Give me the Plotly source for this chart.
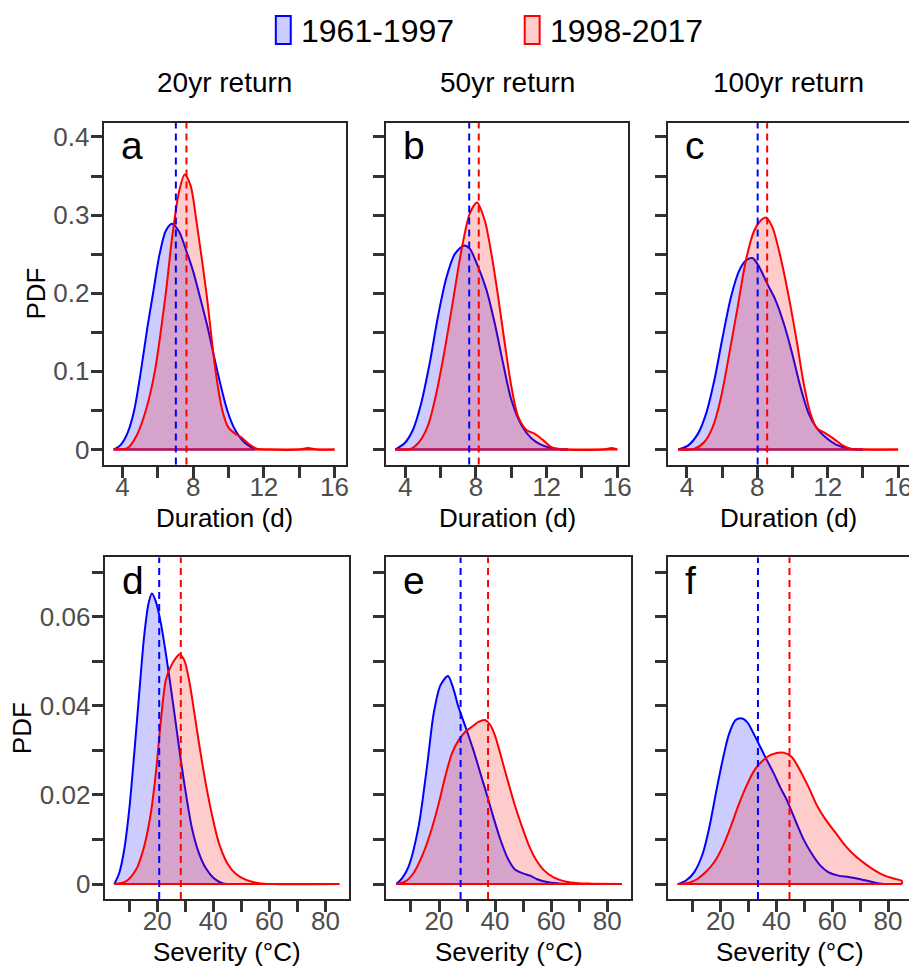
import plotly.graph_objects as go

# The page body has an 8px margin, so the figure is drawn 8px in from the top-left.
OFF = 8
W, H = 917 - OFF, 966 - OFF
FONT = "Liberation Sans, Arial, sans-serif"

# ---------------- data ----------------
panel_letters = ["a", "b", "c", "d", "e", "f"]
column_titles = ["20yr return", "50yr return", "100yr return"]
series_names = ["1961-1997", "1998-2017"]

# Duration (d) PDFs
a_blue_x = [3.5, 3.9, 4.3, 4.66, 5.04, 5.4, 5.73, 6.1, 6.45, 6.8, 7.2, 7.6, 8.0, 8.33, 8.8, 9.37, 9.93, 10.4, 10.9, 11.5]
a_blue_y = [0.0, 0.006, 0.022, 0.05, 0.10, 0.155, 0.20, 0.25, 0.28, 0.289, 0.279, 0.255, 0.228, 0.20, 0.158, 0.10, 0.05, 0.024, 0.009, 0.0]
a_red_x = [3.5, 4.3, 4.8, 5.32, 5.83, 6.45, 6.8, 7.2, 7.52, 7.85, 8.2, 8.75, 9.27, 9.65, 10.0, 10.4, 10.7, 11.1, 11.6, 12.2, 14.0, 14.5, 15.0, 16.0]
a_red_y = [0.0, 0.002, 0.018, 0.05, 0.10, 0.20, 0.27, 0.33, 0.352, 0.338, 0.29, 0.20, 0.10, 0.05, 0.028, 0.02, 0.016, 0.008, 0.001, 0.0, 0.0, 0.002, 0.0, 0.0]

b_blue_x = [3.43, 3.96, 4.43, 4.9, 5.38, 5.85, 6.33, 6.8, 7.33, 7.65, 8.12, 8.6, 9.07, 9.54, 10.01, 10.58, 11.15, 11.7, 12.47, 13.2]
b_blue_y = [0.0, 0.008, 0.025, 0.059, 0.11, 0.17, 0.22, 0.25, 0.261, 0.257, 0.234, 0.204, 0.161, 0.11, 0.063, 0.031, 0.014, 0.006, 0.001, 0.0]
b_red_x = [3.43, 4.34, 4.8, 5.29, 5.76, 6.23, 6.7, 7.18, 7.65, 8.06, 8.5, 8.88, 9.26, 9.63, 10.01, 10.39, 10.86, 11.33, 11.8, 12.28, 13.0, 15.2, 15.7, 16.0]
b_red_y = [0.0, 0.001, 0.01, 0.031, 0.072, 0.127, 0.19, 0.255, 0.302, 0.316, 0.293, 0.25, 0.195, 0.136, 0.08, 0.042, 0.025, 0.02, 0.012, 0.003, 0.0, 0.0, 0.002, 0.0]

c_blue_x = [3.5, 4.06, 4.62, 5.09, 5.56, 6.03, 6.5, 6.97, 7.35, 7.72, 8.1, 8.57, 9.04, 9.51, 9.98, 10.45, 10.92, 11.39, 11.96, 12.5, 13.27, 14.0]
c_blue_y = [0.0, 0.005, 0.02, 0.046, 0.089, 0.144, 0.195, 0.229, 0.242, 0.245, 0.234, 0.212, 0.191, 0.161, 0.123, 0.08, 0.046, 0.027, 0.014, 0.006, 0.001, 0.0]
c_red_x = [3.5, 4.43, 5.0, 5.47, 5.94, 6.41, 6.88, 7.35, 7.82, 8.19, 8.48, 8.85, 9.32, 9.79, 10.26, 10.64, 11.02, 11.39, 11.86, 12.33, 12.8, 13.27, 14.0, 16.0]
c_red_y = [0.0, 0.001, 0.01, 0.029, 0.067, 0.123, 0.182, 0.242, 0.28, 0.293, 0.297, 0.285, 0.246, 0.195, 0.136, 0.084, 0.046, 0.027, 0.021, 0.014, 0.006, 0.001, 0.0, 0.0]

# Severity (°C) PDFs
d_blue_x = [4.66, 6.44, 8.2, 10.0, 11.8, 13.56, 15.3, 16.9, 18.07, 19.5, 21.3, 23.05, 24.8, 26.6, 28.4, 30.2, 32.5, 34.9, 37.3, 40.2, 43.2, 45.0]
d_blue_y = [0.0, 0.0025, 0.0077, 0.0167, 0.0294, 0.0428, 0.0555, 0.063, 0.0652, 0.0634, 0.0585, 0.0518, 0.0443, 0.0361, 0.0279, 0.0204, 0.0122, 0.0069, 0.0036, 0.0013, 0.0002, 0.0]
d_red_x = [4.66, 8.8, 12.4, 15.3, 17.7, 19.5, 21.3, 23.05, 24.8, 26.6, 28.0, 29.6, 31.35, 33.1, 34.9, 37.3, 39.65, 42.0, 45.0, 48.0, 51.5, 56.3, 61.0, 85.0]
d_red_y = [0.0, 0.0006, 0.0032, 0.0084, 0.0159, 0.0249, 0.0368, 0.0458, 0.0488, 0.0507, 0.0516, 0.0503, 0.0458, 0.039, 0.0316, 0.0226, 0.0152, 0.0092, 0.0047, 0.0023, 0.001, 0.0002, 0.0, 0.0]

e_blue_x = [4.77, 6.8, 9.17, 12.7, 15.7, 18.1, 20.5, 23.2, 25.2, 26.8, 29.5, 32.3, 34.7, 37.1, 39.5, 41.9, 44.5, 47.2, 50.0, 52.5, 55.0, 59.1, 65.0]
e_blue_y = [0.0, 0.0013, 0.004, 0.0129, 0.0263, 0.0383, 0.0446, 0.0467, 0.0437, 0.040, 0.0352, 0.030, 0.025, 0.020, 0.0148, 0.010, 0.0058, 0.0032, 0.0024, 0.0019, 0.0011, 0.0004, 0.0]
e_red_x = [4.77, 8.0, 10.95, 13.9, 16.9, 19.9, 22.2, 24.6, 27.0, 29.4, 31.75, 34.1, 36.3, 38.3, 40.1, 42.5, 44.8, 47.2, 49.6, 52.0, 54.3, 57.3, 60.9, 65.0, 69.8, 74.5, 85.2]
e_red_y = [0.0, 0.0006, 0.0025, 0.0062, 0.0114, 0.0181, 0.0241, 0.0293, 0.0323, 0.0342, 0.0353, 0.0364, 0.0368, 0.0357, 0.0331, 0.0278, 0.0226, 0.0174, 0.0129, 0.0088, 0.0058, 0.0032, 0.0015, 0.0006, 0.0002, 0.0001, 0.0]

f_blue_x = [4.66, 7.6, 10.6, 13.6, 16.0, 18.3, 20.7, 23.05, 25.4, 27.4, 29.6, 31.9, 34.3, 36.7, 39.1, 41.4, 43.8, 46.8, 49.7, 52.7, 55.7, 58.6, 62.2, 65.8, 69.3, 72.9, 76.4, 80.0]
f_blue_y = [0.0, 0.0008, 0.0027, 0.0068, 0.0128, 0.0203, 0.0277, 0.0337, 0.0368, 0.0372, 0.0363, 0.0337, 0.0307, 0.0277, 0.0248, 0.0217, 0.0188, 0.0143, 0.0101, 0.0068, 0.0042, 0.0027, 0.0019, 0.0016, 0.0012, 0.0007, 0.0002, 0.0]
f_red_x = [4.66, 8.8, 11.8, 14.7, 17.7, 20.7, 23.6, 26.6, 29.6, 32.5, 35.5, 38.4, 42.6, 45.5, 48.5, 51.5, 54.5, 57.4, 61.0, 64.6, 68.1, 71.7, 75.2, 78.8, 82.4, 85.0, 85.0]
f_red_y = [0.0, 0.0003, 0.0012, 0.0027, 0.0049, 0.0083, 0.0128, 0.018, 0.0225, 0.0259, 0.0279, 0.0291, 0.0295, 0.0285, 0.0255, 0.0218, 0.0177, 0.0147, 0.0117, 0.0087, 0.0064, 0.0046, 0.0031, 0.0019, 0.0012, 0.0007, 0.0]

# means (dashed lines)
mean_blue = [7.02, 7.62, 8.02, 20.7, 27.7, 33.4]
mean_red = [7.62, 8.16, 8.56, 28.4, 37.5, 44.7]

# ticks
dur_tickvals = [4, 6, 8, 10, 12, 14, 16]
dur_ticktext = ["4", "", "8", "", "12", "", "16"]
sev_tickvals = [10, 20, 30, 40, 50, 60, 70, 80]
sev_ticktext = ["", "20", "", "40", "", "60", "", "80"]
pdf_dur_tickvals = [0, 0.05, 0.1, 0.15, 0.2, 0.25, 0.3, 0.35, 0.4]
pdf_dur_ticktext = ["0", "", "0.1", "", "0.2", "", "0.3", "", "0.4"]
pdf_sev_tickvals = [0, 0.01, 0.02, 0.03, 0.04, 0.05, 0.06, 0.07]
pdf_sev_ticktext = ["0", "", "0.02", "", "0.04", "", "0.06", ""]

x_title = ["Duration (d)", "Severity (°C)"]
y_title = "PDF"

panels = [
    (a_blue_x, a_blue_y, a_red_x, a_red_y),
    (b_blue_x, b_blue_y, b_red_x, b_red_y),
    (c_blue_x, c_blue_y, c_red_x, c_red_y),
    (d_blue_x, d_blue_y, d_red_x, d_red_y),
    (e_blue_x, e_blue_y, e_red_x, e_red_y),
    (f_blue_x, f_blue_y, f_red_x, f_red_y),
]

# ---------------- layout geometry (page pixels) ----------------
col_px = [[(104, 347), (388, 631), (671, 913)],
          [(105, 351), (388, 634), (671, 916)]]
row_px = [(122, 464), (557, 899)]
x_ranges = [[2.93, 16.62], [1.2, 88.6]]
y_ranges = [[-0.0192, 0.418], [-0.00336, 0.0733]]


def px(xp):
    return (xp - OFF) / W


def py(yp):
    return 1 - (yp - OFF) / H


BLUE = "#0000ff"
RED = "#ff0000"
BLUE_FILL = "rgba(0,0,255,0.2)"
RED_FILL = "rgba(255,0,0,0.2)"

fig = go.Figure()
layout = dict(
    width=W, height=H,
    margin=dict(l=0, r=0, t=0, b=0),
    paper_bgcolor="white", plot_bgcolor="white",
    showlegend=False,
    font=dict(family=FONT, color="black"),
)
annotations = []
shapes = []

for i, (bx, by, rx, ry) in enumerate(panels):
    r, c = divmod(i, 3)
    n = i + 1
    xa = "x" if n == 1 else f"x{n}"
    ya = "y" if n == 1 else f"y{n}"
    for xs, ys, lc, fc in ((bx, by, BLUE, BLUE_FILL), (rx, ry, RED, RED_FILL)):
        # filled density curve
        fig.add_trace(go.Scatter(
            x=xs, y=ys,
            mode="lines", fill="tozeroy", fillcolor=fc,
            line=dict(color=lc, width=2, shape="spline", smoothing=0.8),
            xaxis=xa, yaxis=ya, hoverinfo="skip",
        ))
        # polygon base (outline along zero)
        fig.add_trace(go.Scatter(
            x=[xs[0], xs[-1]], y=[0, 0], mode="lines",
            line=dict(color=lc, width=2),
            xaxis=xa, yaxis=ya, hoverinfo="skip",
        ))
    x0, x1 = col_px[r][c]
    y0, y1 = row_px[r]
    common = dict(
        showline=True, linecolor="#262626", linewidth=2, mirror=True,
        showgrid=False, zeroline=False,
        ticks="outside", ticklen=11, tickwidth=3, tickcolor="#333333",
        tickfont=dict(family=FONT, size=26, color="#4d4d4d"),
        fixedrange=True,
    )
    layout["xaxis" if n == 1 else f"xaxis{n}"] = dict(
        common, domain=[px(x0), px(x1)], range=x_ranges[r],
        anchor=ya, ticklabelstandoff=-13,
        tickmode="array",
        tickvals=dur_tickvals if r == 0 else sev_tickvals,
        ticktext=dur_ticktext if r == 0 else sev_ticktext,
    )
    layout["yaxis" if n == 1 else f"yaxis{n}"] = dict(
        common, domain=[py(y1), py(y0)], range=y_ranges[r],
        anchor=xa, ticklabelstandoff=-4,
        tickmode="array",
        tickvals=pdf_dur_tickvals if r == 0 else pdf_sev_tickvals,
        ticktext=(pdf_dur_ticktext if r == 0 else pdf_sev_ticktext) if c == 0
        else [""] * len(pdf_dur_tickvals if r == 0 else pdf_sev_tickvals),
    )
    # mean lines
    for mv, lc in ((mean_blue[i], BLUE), (mean_red[i], RED)):
        shapes.append(dict(type="line", xref=xa, yref=f"{ya} domain",
                           x0=mv, x1=mv, y0=0, y1=1,
                           line=dict(color=lc, width=2, dash="7px,5px")))
    # panel letter
    annotations.append(dict(text=panel_letters[i], xref="paper", yref="paper",
                            x=px(x0 + 15), y=py(y0 + 23), xanchor="left", yanchor="middle",
                            showarrow=False, font=dict(family=FONT, size=39, color="black")))
    # x title
    annotations.append(dict(text=x_title[r], xref="paper", yref="paper",
                            x=px((x0 + x1) / 2), y=py(518 if r == 0 else 952),
                            xanchor="center", yanchor="middle", showarrow=False,
                            font=dict(family=FONT, size=26, color="black")))
    if r == 0:
        annotations.append(dict(text=column_titles[c], xref="paper", yref="paper",
                                x=px((x0 + x1) / 2), y=py(82), xanchor="center", yanchor="middle",
                                showarrow=False, font=dict(family=FONT, size=28, color="black")))
    if c == 0:
        annotations.append(dict(text=y_title, xref="paper", yref="paper",
                                x=px(36 if r == 0 else 22), y=py((y0 + y1) / 2),
                                xanchor="center", yanchor="middle", textangle=-90,
                                showarrow=False, font=dict(family=FONT, size=26, color="black")))

# legend (manual)
for (bx0, bx1, tx), name, lc, fc in (((277, 292, 300), series_names[0], BLUE, BLUE_FILL),
                                     ((527, 542, 550), series_names[1], RED, RED_FILL)):
    shapes.append(dict(type="rect", xref="paper", yref="paper",
                       x0=px(bx0), x1=px(bx1), y0=py(43), y1=py(15),
                       line=dict(color=lc, width=2), fillcolor=fc))
    annotations.append(dict(text=name, xref="paper", yref="paper", x=px(tx), y=py(30),
                            xanchor="left", yanchor="middle", showarrow=False,
                            font=dict(family=FONT, size=32, color="black")))

layout["annotations"] = annotations
layout["shapes"] = shapes
fig.update_layout(**layout)
fig.write_html("out.html")
